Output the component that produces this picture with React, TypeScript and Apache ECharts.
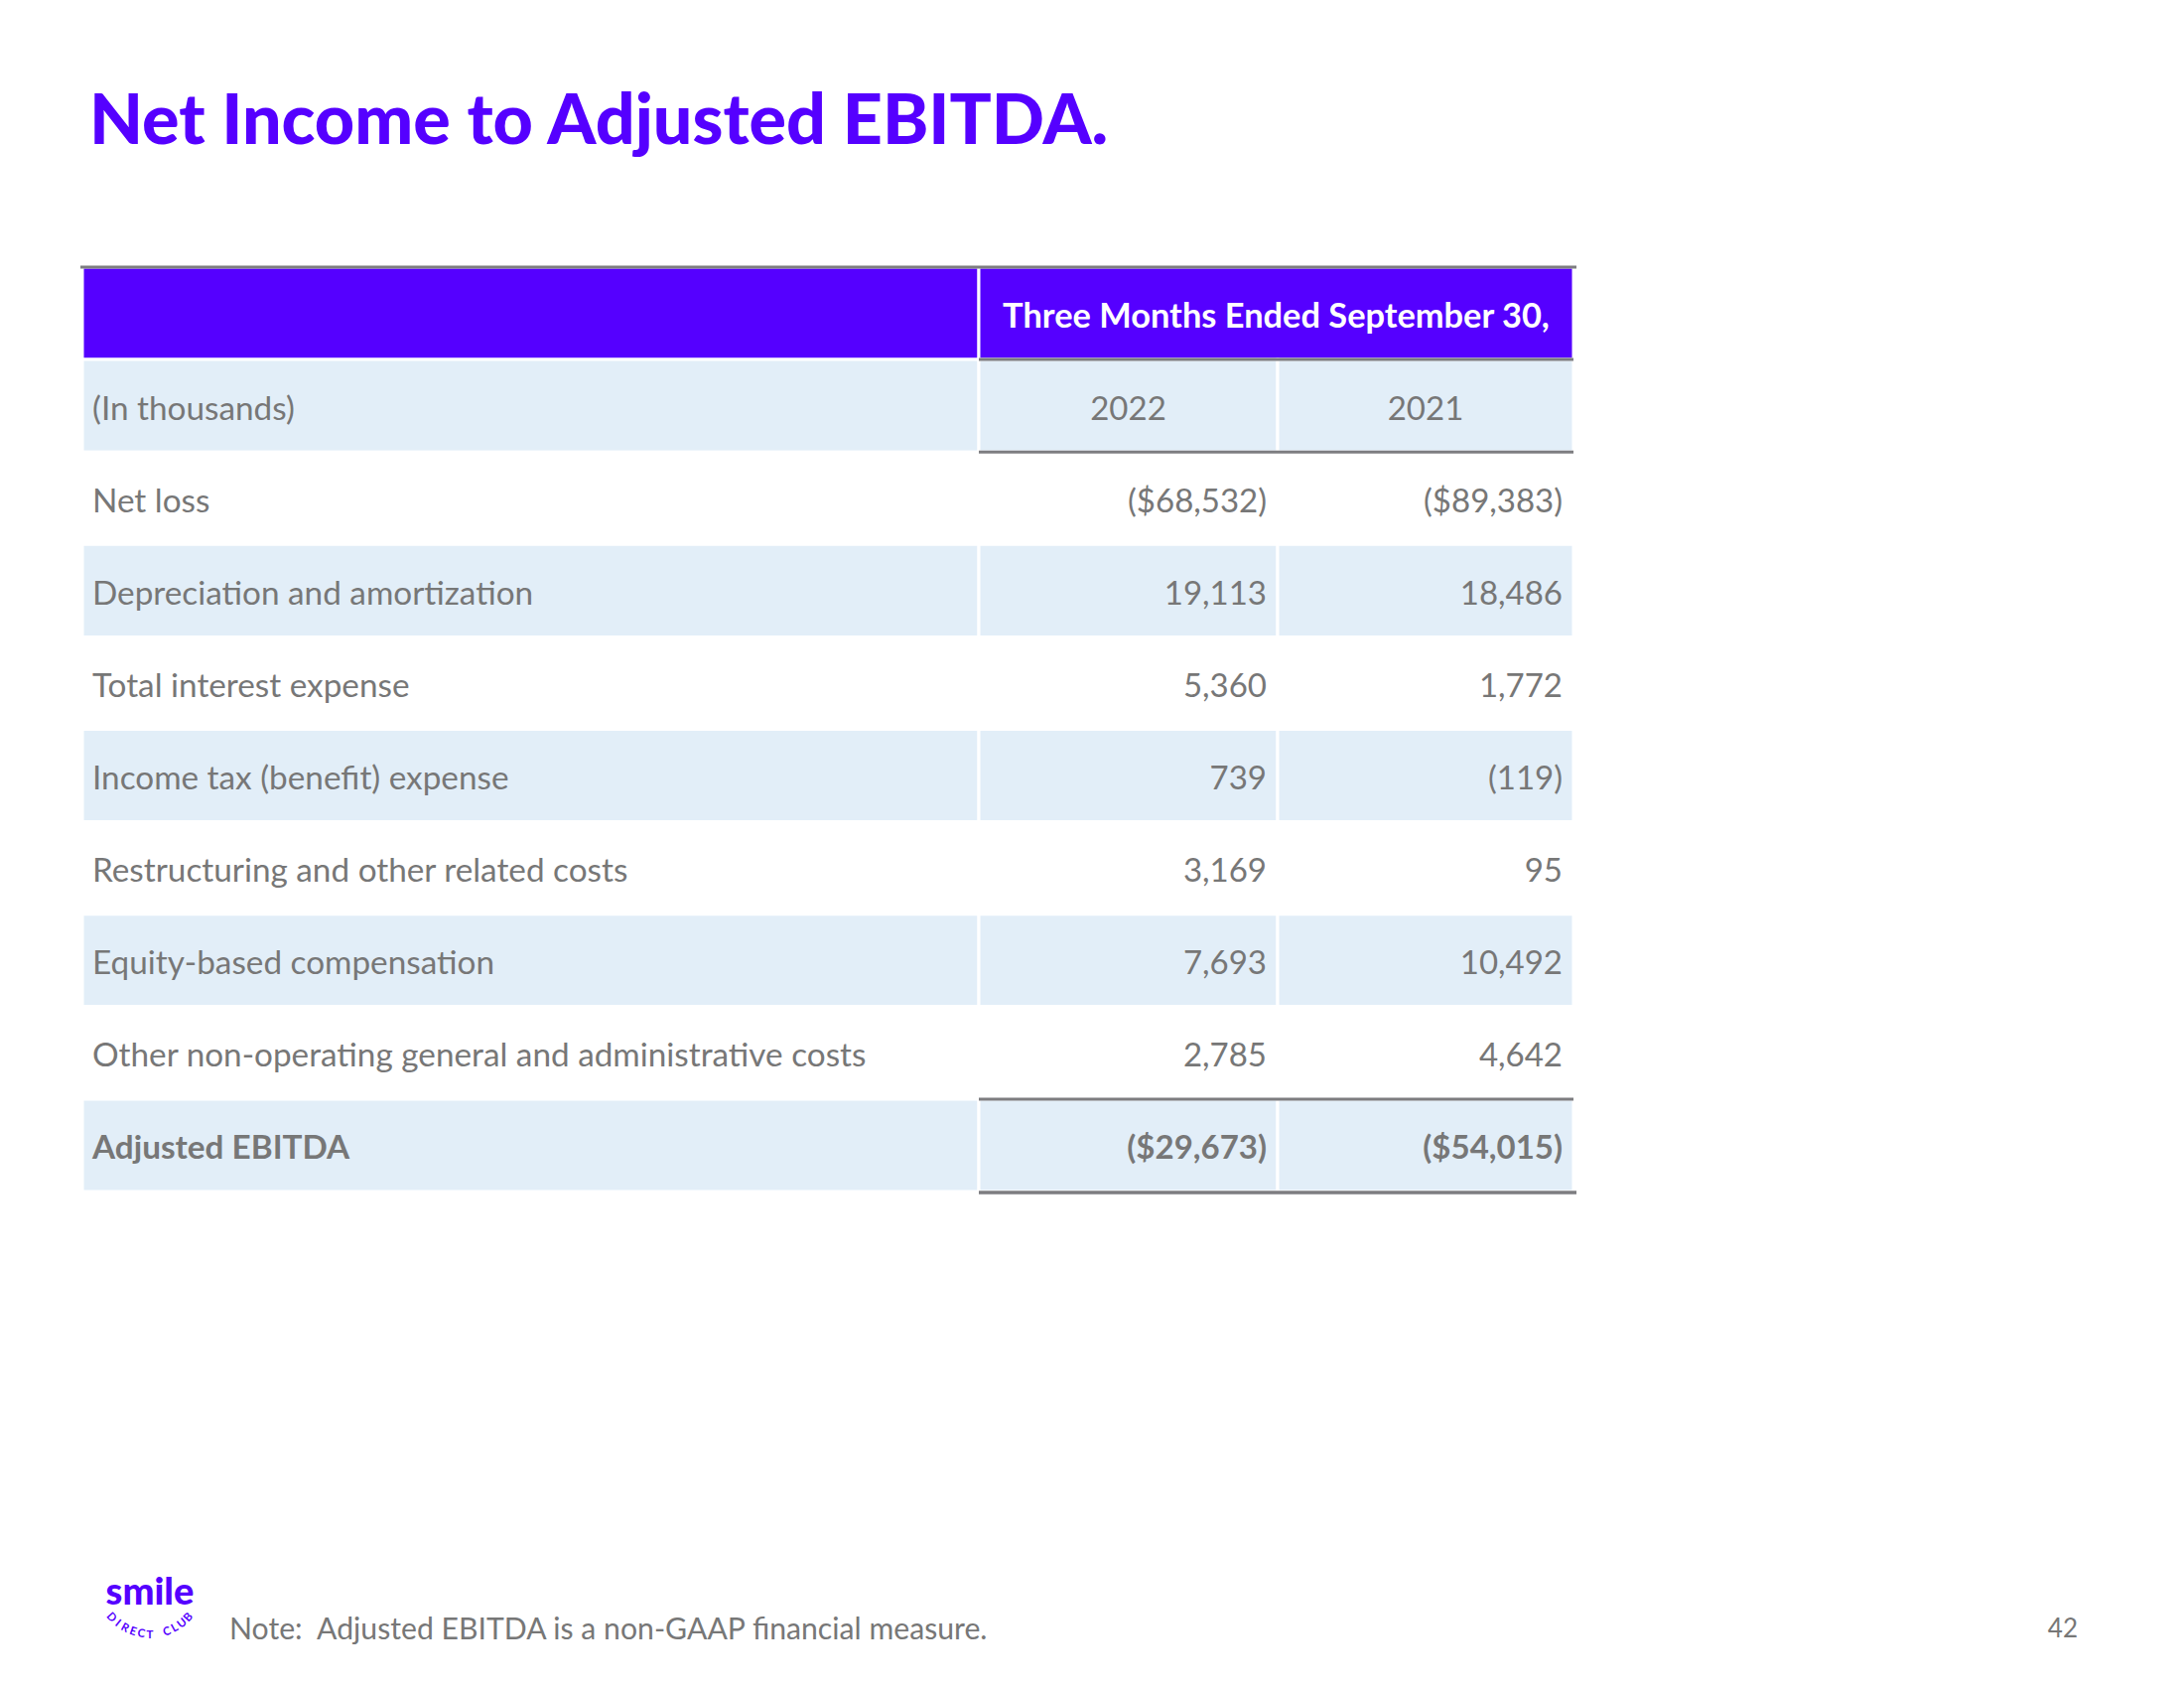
import React, { useEffect, useRef } from "react";
import * as echarts from "echarts";

// ---------- data ----------
const title = "Net Income to Adjusted EBITDA.";
const periodHeader = "Three Months Ended September 30,";
const unitLabel = "(In thousands)";
const years = ["2022", "2021"];
const lineItems = [
  "Net loss",
  "Depreciation and amortization",
  "Total interest expense",
  "Income tax (benefit) expense",
  "Restructuring and other related costs",
  "Equity-based compensation",
  "Other non-operating general and administrative costs",
  "Adjusted EBITDA",
];
const values2022 = [-68532, 19113, 5360, 739, 3169, 7693, 2785, -29673];
const values2021 = [-89383, 18486, 1772, -119, 95, 10492, 4642, -54015];
const dollarRows = ["Net loss", "Adjusted EBITDA"];
const totalRow = "Adjusted EBITDA";
const footnote = "Note:  Adjusted EBITDA is a non-GAAP financial measure.";
const pageNumber = "42";
const logoWord = "smile";
const logoArc = "DIRECT CLUB";

// ---------- style / layout ----------
const PURPLE = "#5500FF";
const BLUE = "#E2EEF8";
const GREY = "#777777";
const RULE = "#7D7D80";
const FONT = "Lato, 'Noto Sans', sans-serif";
const TABLE_LEFT = 83;
const TABLE_TOP = 269;
const ROW_H = 93.1;
const COL_W = [903, 301, 298];
const COL_START = [0, COL_W[0], COL_W[0] + COL_W[1], COL_W[0] + COL_W[1] + COL_W[2]];
const TABLE_W = COL_START[3];

const fmt = (v: number, dollar: boolean) => {
  const s = (dollar ? "$" : "") + Math.abs(v).toLocaleString("en-US");
  return v < 0 ? "(" + s + ")" : s;
};

type Cell = { col: number; row: number; span: number; text: string; kind: string; bold?: boolean };

const rowKeys = ["header", unitLabel, ...lineItems];
const cells: Cell[] = [];
cells.push({ col: 0, row: 0, span: 1, text: "", kind: "head" });
cells.push({ col: 1, row: 0, span: 2, text: periodHeader, kind: "head" });
cells.push({ col: 0, row: 1, span: 1, text: unitLabel, kind: "label" });
years.forEach((y, i) => cells.push({ col: i + 1, row: 1, span: 1, text: y, kind: "year" }));
lineItems.forEach((name, i) => {
  const r = i + 2;
  const bold = name === totalRow;
  const dollar = dollarRows.includes(name);
  cells.push({ col: 0, row: r, span: 1, text: name, kind: "label", bold });
  cells.push({ col: 1, row: r, span: 1, text: fmt(values2022[i], dollar), kind: "value", bold });
  cells.push({ col: 2, row: r, span: 1, text: fmt(values2021[i], dollar), kind: "value", bold });
});
const lastRow = rowKeys.length - 1;

const renderItem = (params: any, api: any) => {
  const c = cells[params.dataIndex];
  const yc = api.coord([0, c.row])[1];
  const h = api.size([0, 1])[1];
  const xa = api.coord([COL_START[c.col], c.row])[0];
  const xb = api.coord([COL_START[c.col + c.span], c.row])[0];
  const top = yc - h / 2;
  const bottom = yc + h / 2;
  const fill = c.kind === "head" ? PURPLE : (c.row - 1) % 2 === 0 ? BLUE : "#ffffff";
  const children: any[] = [
    {
      type: "rect",
      shape: { x: xa, y: top, width: xb - xa, height: h },
      style: { fill, stroke: "#ffffff", lineWidth: 3 },
    },
  ];
  if (c.text) {
    let x = xa + 10;
    let align = "left";
    let color = GREY;
    let size = 33.3;
    let weight: any = c.bold ? "bold" : "normal";
    if (c.kind === "head") {
      x = (xa + xb) / 2;
      align = "center";
      color = "#ffffff";
      size = 34.4;
      weight = "bold";
    } else if (c.kind === "year") {
      x = (xa + xb) / 2;
      align = "center";
      size = 33;
    } else if (c.kind === "value") {
      x = xb - 11;
      align = "right";
      size = 33;
    }
    children.push({
      type: "text",
      z2: 5,
      style: {
        text: c.text,
        x,
        y: yc + 1,
        fill: color,
        fontSize: size,
        fontFamily: FONT,
        fontWeight: weight,
        align,
        textAlign: align,
        verticalAlign: "middle",
        textVerticalAlign: "middle",
      },
    });
  }
  const rule = (y: number, x1: number, x2: number, w: number) =>
    children.push({
      type: "line",
      z2: 10,
      shape: { x1, y1: y, x2, y2: y },
      style: { stroke: RULE, lineWidth: w },
    });
  if (c.kind === "head") {
    rule(top, c.col === 0 ? xa - 2 : xa, c.col === 0 ? xb : xb + 3, 3);
  } else if (c.col >= 1) {
    if (c.row === 1 || c.row === 2 || c.row === lastRow) rule(top, xa, xb, 3);
    if (c.row === lastRow) rule(bottom + 1, xa, c.col === 2 ? xb + 3 : xb, 3.5);
  }
  return { type: "group", children };
};

function buildGraphic() {
  const g: any[] = [];
  g.push({
    type: "text",
    left: 90,
    top: 83,
    style: {
      text: title,
      fill: PURPLE,
      fontSize: 70,
      fontFamily: FONT,
      fontWeight: 900,
    },
  });
  // logo word
  g.push({
    type: "text",
    x: 151,
    y: 1601,
    style: {
      text: logoWord,
      fill: PURPLE,
      fontSize: 38,
      fontFamily: FONT,
      fontWeight: 900,
      align: "center",
      textAlign: "center",
      verticalAlign: "middle",
      textVerticalAlign: "middle",
    },
  });
  // arc text
  const chars = logoArc.split("");
  const cx = 151;
  const cy = 1594;
  const r = 51;
  const span = (96 * Math.PI) / 180;
  chars.forEach((ch, i) => {
    const phi = -span / 2 + (span * i) / (chars.length - 1);
    g.push({
      type: "text",
      x: cx + r * Math.sin(phi),
      y: cy + r * Math.cos(phi),
      rotation: phi,
      style: {
        text: ch,
        fill: PURPLE,
        fontSize: 11.5,
        fontFamily: FONT,
        fontWeight: "bold",
        align: "center",
        textAlign: "center",
        verticalAlign: "middle",
        textVerticalAlign: "middle",
      },
    });
  });
  g.push({
    type: "text",
    x: 231,
    y: 1639,
    style: {
      text: footnote,
      fill: GREY,
      fontSize: 30.2,
      fontFamily: FONT,
      verticalAlign: "middle",
      textVerticalAlign: "middle",
    },
  });
  g.push({
    type: "text",
    x: 2093,
    y: 1639,
    style: {
      text: pageNumber,
      fill: GREY,
      fontSize: 26,
      fontFamily: FONT,
      align: "right",
      textAlign: "right",
      verticalAlign: "middle",
      textVerticalAlign: "middle",
    },
  });
  return g;
}

export default function App() {
  const ref = useRef<HTMLDivElement>(null);
  useEffect(() => {
    document.body.style.margin = "0";
    const chart = echarts.init(ref.current as HTMLDivElement, null, { renderer: "svg" });
    chart.setOption({
      animation: false,
      backgroundColor: "#ffffff",
      grid: { left: TABLE_LEFT, top: TABLE_TOP, width: TABLE_W, height: ROW_H * rowKeys.length },
      xAxis: { type: "value", min: 0, max: TABLE_W, show: false },
      yAxis: { type: "category", data: rowKeys, inverse: true, show: false },
      series: [
        {
          type: "custom",
          silent: true,
          clip: false,
          data: cells.map((c) => [c.col, c.row]),
          renderItem,
        },
      ],
      graphic: buildGraphic(),
    });
    return () => chart.dispose();
  }, []);
  return <div ref={ref} style={{ width: 2200, height: 1700 }} />;
}
